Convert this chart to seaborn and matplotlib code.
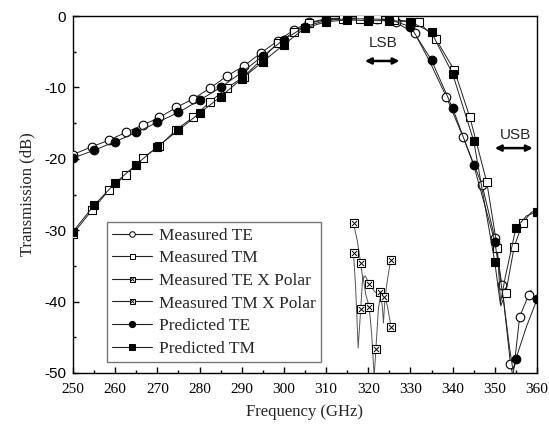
"""
Transmission vs frequency: measured and predicted TE/TM, plus cross-polar.
Writes out.png (549x430).
"""
import matplotlib
matplotlib.use("Agg")

import matplotlib.pyplot as plt
from matplotlib.lines import Line2D
from matplotlib.ticker import MultipleLocator
import seaborn as sns

# ── Data ──────────────────────────────────────────────────────────────────────
MTE_X = [250, 254.5, 258.5, 262.5, 266.5, 270.5, 274.5, 278.5, 282.5, 286.5,
         290.5, 294.5, 298.5, 302.5, 306, 310, 314, 318, 322, 326.5, 331,
         334.5, 338.5, 342.5, 347, 350, 351.7, 353.7, 354.3, 355.9, 358, 358.6]
MTE_Y = [-19.4, -18.3, -17.4, -16.3, -15.3, -14.2, -12.8, -11.6, -10.1, -8.4,
         -7.0, -5.2, -3.5, -1.9, -0.9, -0.4, -0.3, -0.3, -0.4, -0.9, -2.4,
         -6.3, -11.3, -17.0, -23.7, -31.1, -37.7, -48.7, -50.5, -42.1, -39.1, -38.4]
MTE_MARKS = [i for i in range(len(MTE_X)) if i not in (21, 28, 31)]

MTM_X = [250, 254.5, 258.5, 262.5, 266.5, 270.5, 274.5, 278.5, 282.5, 286.5,
         290.5, 294.5, 298.5, 302.5, 306, 310, 314, 318, 322, 326, 332, 336,
         340.4, 344.1, 348.1, 350.6, 351.4, 352.6, 354.6, 356.6, 358.6, 360]
MTM_Y = [-30.5, -27.2, -24.4, -22.3, -19.9, -18.2, -15.9, -14.2, -12.0, -10.1,
         -8.5, -6.2, -3.8, -2.2, -1.0, -0.5, -0.4, -0.4, -0.4, -0.5, -0.9, -3.2,
         -7.6, -14.2, -23.3, -32.5, -40.6, -38.8, -32.3, -29.0, -27.5, -27.2]
MTM_MARKS = [i for i in range(len(MTM_X)) if i not in (26, 30, 31)]

PTE_X = [250, 255, 260, 265, 270, 275, 280, 285, 290, 295, 300, 305, 310, 315,
         320, 325, 330, 335, 340, 345, 350, 352, 353.5, 354.3, 355, 357.5, 360]
PTE_Y = [-19.9, -18.8, -17.6, -16.3, -14.9, -13.5, -11.8, -10.0, -7.9, -5.6,
         -3.3, -1.5, -0.6, -0.4, -0.4, -0.5, -1.5, -6.2, -12.9, -20.9, -31.6,
         -39.5, -46.5, -49.6, -48.0, -43.5, -39.7]
PTE_MARKS = [i for i in range(len(PTE_X)) if PTE_X[i] % 5 == 0]

PTM_X = [250, 255, 260, 265, 270, 275, 280, 285, 290, 295, 300, 305, 310, 315,
         320, 325, 330, 335, 340, 345, 350, 351.3, 352.5, 355, 357.5, 360]
PTM_Y = [-30.2, -26.5, -23.4, -20.8, -18.3, -16.0, -13.6, -11.3, -8.8, -6.4,
         -4.0, -1.7, -0.8, -0.55, -0.65, -0.65, -0.8, -2.3, -8.1, -17.5, -34.5,
         -40.3, -36.5, -29.7, -28.0, -27.4]
PTM_MARKS = [i for i in range(len(PTM_X)) if PTM_X[i] % 5 == 0]

TEX_X = [316.5, 317.4, 318.2, 318.7, 319.3, 320.2, 320.8, 321.5, 322.2, 322.8,
         323.3, 323.6, 323.9, 324.4, 325.3]
TEX_Y = [-29.0, -31.5, -34.6, -36.8, -36.4, -37.5, -38.0, -38.6, -38.9, -38.6,
         -40.5, -43.0, -40.0, -37.5, -34.2]
TEX_MARKS = [0, 2, 5, 9, 14]

TMX_X = [316.5, 317.0, 317.6, 318.2, 318.7, 319.4, 320.2, 320.8, 321.4, 321.8,
         322.4, 323.0, 323.8, 324.5, 325.4]
TMX_Y = [-33.2, -38.0, -46.5, -41.1, -36.3, -39.0, -40.7, -44.5, -50.5, -46.7,
         -41.0, -38.8, -39.3, -40.5, -43.5]
TMX_MARKS = [0, 3, 6, 9, 12, 14]

LABELS = ["Measured TE", "Measured TM", "Measured TE X Polar",
          "Measured TM X Polar", "Predicted TE", "Predicted TM"]

SERIF = "Liberation Serif"
SANS = "Liberation Sans"

# ── Style ─────────────────────────────────────────────────────────────────────
sns.set_theme(style="ticks")
plt.rcParams.update({
    "font.family": SERIF,
    "axes.unicode_minus": False,
    "axes.linewidth": 1.0,
    "axes.edgecolor": "black",
    "xtick.direction": "in",
    "ytick.direction": "in",
    "xtick.color": "black",
    "ytick.color": "black",
})


def curve(ax, x, y, marks, marker, mfc, ms=6.2, color="#222", lw=0.7):
    sns.lineplot(x=x, y=y, ax=ax, sort=False, estimator=None, color=color,
                 lw=lw, marker=marker, markevery=marks, markersize=ms,
                 markerfacecolor=mfc, markeredgecolor="black",
                 markeredgewidth=0.8, zorder=3)


def cross(ax, x, y, marks):
    curve(ax, x, y, marks, "s", "white", ms=5.3, color="#555", lw=0.7)
    sns.scatterplot(x=[x[i] for i in marks], y=[y[i] for i in marks], ax=ax,
                    marker="x", s=13, color="black", linewidth=0.7, zorder=4)


fig = plt.figure(figsize=(5.49, 4.30), dpi=100)
ax = fig.add_axes([73 / 549, 57 / 430, 464 / 549, 357 / 430])

curve(ax, MTE_X, MTE_Y, MTE_MARKS, "o", "white")
curve(ax, MTM_X, MTM_Y, MTM_MARKS, "s", "white", ms=5.3)
cross(ax, TEX_X, TEX_Y, TEX_MARKS)
cross(ax, TMX_X, TMX_Y, TMX_MARKS)
curve(ax, PTE_X, PTE_Y, PTE_MARKS, "o", "black")
curve(ax, PTM_X, PTM_Y, PTM_MARKS, "s", "black", ms=5.3)

ax.set_xlim(250, 360)
ax.set_ylim(-50, 0)
ax.xaxis.set_major_locator(MultipleLocator(10))
ax.xaxis.set_minor_locator(MultipleLocator(5))
ax.yaxis.set_major_locator(MultipleLocator(10))
ax.yaxis.set_minor_locator(MultipleLocator(5))
ax.tick_params(which="major", length=4.5, width=1.0)
ax.tick_params(which="minor", length=2.5, width=1.0)
ax.tick_params(axis="x", pad=7)
ax.tick_params(axis="y", pad=5)
for t in ax.get_xticklabels():
    t.set_fontfamily(SERIF)
    t.set_fontsize(11)
for t in ax.get_yticklabels():
    t.set_fontfamily(SANS)
    t.set_fontsize(11)
for s in ax.spines.values():
    s.set_visible(True)

ax.set_xlabel("Frequency (GHz)", fontsize=12, family=SERIF, labelpad=6)
ax.set_ylabel("Transmission (dB)", fontsize=12, family=SERIF, labelpad=6)

# band annotations
ax.text(323.5, -3.8, "LSB", ha="center", va="center", fontsize=11, family=SANS)
ax.annotate("", xy=(319.2, -6.3), xytext=(327.4, -6.3),
            arrowprops=dict(arrowstyle="<|-|>", color="black", lw=1.8,
                            mutation_scale=9, shrinkA=0, shrinkB=0))
ax.text(354.8, -16.6, "USB", ha="center", va="center", fontsize=11, family=SANS)
ax.annotate("", xy=(350.0, -18.5), xytext=(359.0, -18.5),
            arrowprops=dict(arrowstyle="<|-|>", color="black", lw=1.8,
                            mutation_scale=9, shrinkA=0, shrinkB=0))

# legend
kw = dict(color="#222", lw=0.8, mec="black", mew=0.7)
xmark = Line2D([], [], ls="none", marker="x", ms=2.8, mec="black", mew=0.6)
handles = [
    Line2D([], [], marker="o", mfc="white", ms=4, **kw),
    Line2D([], [], marker="s", mfc="white", ms=3.6, **kw),
    (Line2D([], [], marker="s", mfc="white", ms=3.6, **kw), xmark),
    (Line2D([], [], marker="s", mfc="white", ms=3.6, **kw), xmark),
    Line2D([], [], marker="o", mfc="black", ms=4.5, **kw),
    Line2D([], [], marker="s", mfc="black", ms=4, **kw),
]
leg = ax.legend(handles, LABELS, loc="lower left", bbox_to_anchor=(0.073, 0.031),
                borderaxespad=0, frameon=True, fancybox=False, framealpha=1,
                edgecolor="#777", prop={"family": SERIF, "size": 12.5},
                handlelength=2.3, handletextpad=0.4, labelspacing=0.37,
                borderpad=0.3)
leg.get_frame().set_linewidth(1.0)

fig.savefig("out.png", dpi=100)
